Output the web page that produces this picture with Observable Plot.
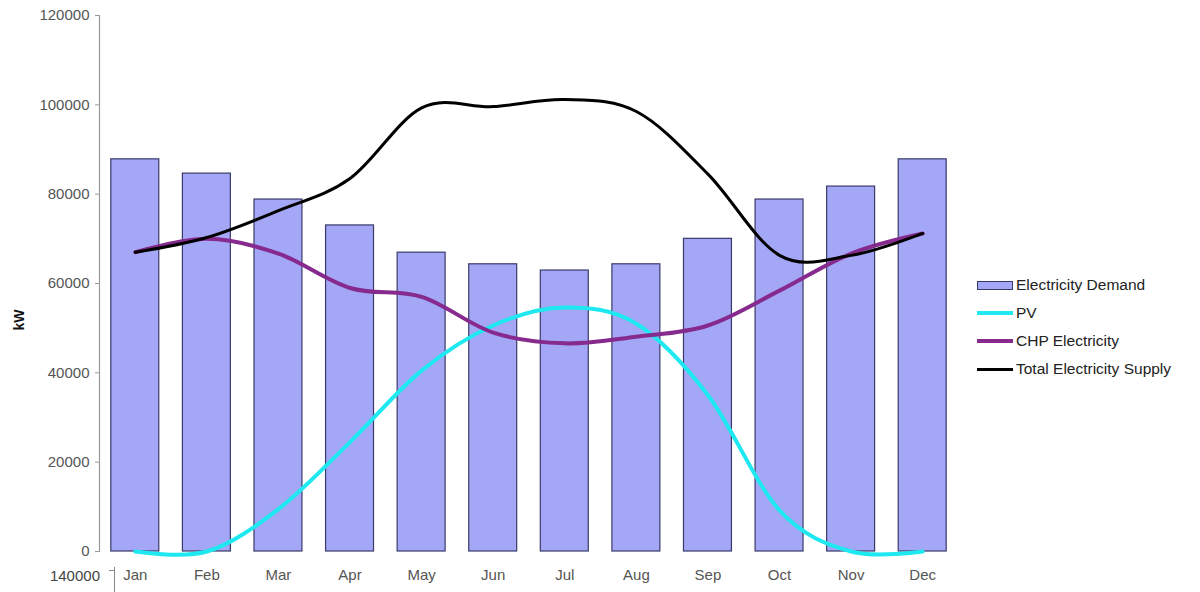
<!DOCTYPE html>
<html>
<head>
<meta charset="utf-8">
<script src="https://cdn.jsdelivr.net/npm/d3@7"></script>
<script src="https://cdn.jsdelivr.net/npm/@observablehq/plot@0.6"></script>
<style>
  html, body { margin: 0; padding: 0; background: #fff; }
  #wrap { position: relative; width: 1200px; height: 592px; overflow: hidden; font-family: "Liberation Sans", Arial, sans-serif; }
  #wrap svg { position: absolute; left: 0; top: 0; }
  #legend { position: absolute; left: 977px; top: 271px; font-size: 15.5px; color: #222; }
  .item { display: flex; align-items: center; height: 28px; }
  .sw { width: 36px; margin-right: 3px; box-sizing: border-box; }
  #stray { position: absolute; right: 1100px; top: 567px; font-size: 15px; color: #444; }
  #straytick { position: absolute; left: 114px; top: 567px; width: 1px; height: 25px; background: #888; }
  #straytick2 { position: absolute; left: 109px; top: 570px; width: 5px; height: 1px; background: #888; }
</style>
</head>
<body>
<div id="wrap">
  <div id="legend"></div>
  <div id="stray">140000</div>
  <div id="straytick"></div>
  <div id="straytick2"></div>
</div>
<script>
const months = ["Jan","Feb","Mar","Apr","May","Jun","Jul","Aug","Sep","Oct","Nov","Dec"];
const demand = [87800, 84600, 78800, 73000, 66900, 64300, 62900, 64300, 70000, 78800, 81700, 87800];
const pv     = [0, 0, 9500, 24500, 40500, 50600, 54600, 51000, 35000, 9200, 0, 0];
const chp    = [67000, 70000, 66700, 59000, 57000, 49000, 46600, 48100, 50600, 58400, 66700, 71200];
const total  = [67000, 70300, 76300, 83500, 99300, 99600, 101200, 98500, 84500, 66300, 66300, 71200];
const yTicks = [0, 20000, 40000, 60000, 80000, 100000, 120000];

const seriesNames = ["Electricity Demand", "PV", "CHP Electricity", "Total Electricity Supply"];
const colors = { bar: "#a4a6f6", barStroke: "#3a3a6a", pv: "#1ee8f0", chp: "#862a8e", total: "#000000" };

const bars = months.map((m, i) => ({ month: m, value: demand[i] }));
const mk = arr => months.map((m, i) => ({ month: m, value: arr[i] }));

const chart = Plot.plot({
  width: 1200,
  height: 592,
  marginLeft: 99,
  marginRight: 242,
  marginTop: 15,
  marginBottom: 41,
  style: { fontFamily: "'Liberation Sans', Arial, sans-serif", fontSize: "15px", color: "#555", background: "transparent" },
  x: { domain: months, paddingInner: 0.33, paddingOuter: 0.165, round: false, label: null },
  y: { domain: [0, 120000], label: null },
  marks: [
    Plot.barY(bars, { x: "month", y: "value", fill: colors.bar, stroke: colors.barStroke, strokeWidth: 1.2 }),
    Plot.line(mk(pv), { x: "month", y: "value", stroke: colors.pv, strokeWidth: 4, curve: "cardinal" }),
    Plot.line(mk(chp), { x: "month", y: "value", stroke: colors.chp, strokeWidth: 4, curve: "cardinal" }),
    Plot.line(mk(total), { x: "month", y: "value", stroke: colors.total, strokeWidth: 3, curve: "cardinal" }),
    Plot.frame({ anchor: "left", stroke: "#999", strokeWidth: 1.2 }),
    Plot.axisY({ ticks: yTicks, tickFormat: d3.format("d"), tickSize: 4, tickPadding: 6, stroke: "#999", label: null, fill: "#555" }),
    Plot.text(["kW"], { frameAnchor: "left", dx: -80, dy: 47, rotate: -90, fontWeight: "bold", fontSize: 14, fill: "#111" }),
    Plot.axisX({ tickSize: 0, tickPadding: 18, label: null, fill: "#555" })
  ]
});
document.getElementById("wrap").prepend(chart);

// legend
const legend = document.getElementById("legend");
const swatches = [
  `<div class="sw" style="height:9px;background:${colors.bar};border:1.5px solid ${colors.barStroke}"></div>`,
  `<div class="sw" style="height:3.5px;background:${colors.pv}"></div>`,
  `<div class="sw" style="height:3.5px;background:${colors.chp}"></div>`,
  `<div class="sw" style="height:3px;background:${colors.total}"></div>`
];
seriesNames.forEach((n, i) => {
  const d = document.createElement("div");
  d.className = "item";
  d.innerHTML = swatches[i] + `<span>${n}</span>`;
  legend.appendChild(d);
});
</script>
</body>
</html>
